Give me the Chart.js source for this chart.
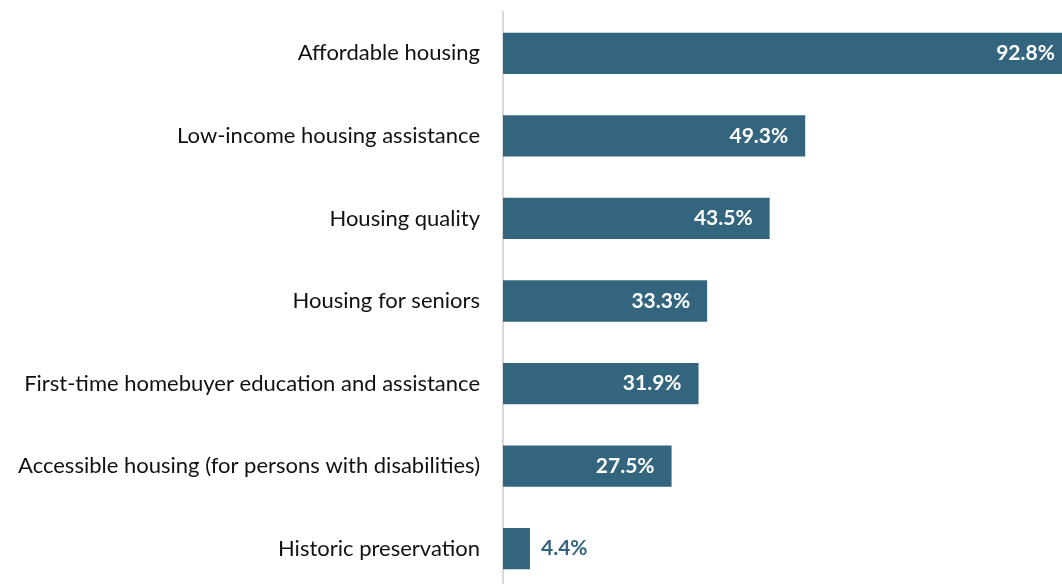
<!DOCTYPE html>
<html>
<head>
<meta charset="utf-8">
<script src="https://cdn.jsdelivr.net/npm/chart.js@4/dist/chart.umd.min.js"></script>
<style>
  html, body { margin: 0; padding: 0; background: #fff; overflow: hidden; }
  canvas { display: block; }
</style>
</head>
<body>
<canvas id="chart" width="1116" height="590"></canvas>
<script>
// Housing priorities - share of respondents
const categories = [
    'Affordable housing',
    'Low-income housing assistance',
    'Housing quality',
    'Housing for seniors',
    'First-time homebuyer education and assistance',
    'Accessible housing (for persons with disabilities)',
    'Historic preservation'
];
const values = [92.8, 49.3, 43.5, 33.3, 31.9, 27.5, 4.4];

const BAR_COLOR = '#34657f';
const LABEL_FONT = 'Lato, "Open Sans", sans-serif';

// draws the value labels at the end of each bar
const valueLabels = {
    id: 'valueLabels',
    afterDatasetsDraw(chart) {
        const ctx = chart.ctx;
        const meta = chart.getDatasetMeta(0);
        ctx.save();
        ctx.font = 'bold 21px ' + LABEL_FONT;
        ctx.textBaseline = 'middle';
        meta.data.forEach((bar, i) => {
            const text = values[i].toFixed(1) + '%';
            const w = ctx.measureText(text).width;
            const barLen = bar.x - bar.base;
            if (barLen > w + 30) {
                ctx.fillStyle = '#ffffff';
                ctx.textAlign = 'right';
                ctx.fillText(text, bar.x - 17, bar.y);
            } else {
                ctx.fillStyle = BAR_COLOR;
                ctx.textAlign = 'left';
                ctx.fillText(text, bar.x + 11, bar.y);
            }
        });
        ctx.restore();
    }
};

new Chart(document.getElementById('chart'), {
    type: 'bar',
    data: {
        labels: categories,
        datasets: [{
            data: values,
            backgroundColor: BAR_COLOR,
            barPercentage: 0.5,
            categoryPercentage: 1
        }]
    },
    options: {
        indexAxis: 'y',
        responsive: false,
        animation: false,
        layout: { padding: { top: 12, bottom: 0, left: 0, right: 0 } },
        plugins: {
            legend: { display: false },
            tooltip: { enabled: false }
        },
        scales: {
            x: {
                display: false,
                min: 0,
                max: 100
            },
            y: {
                afterFit: (scale) => {
                    scale.width = 503;
                    scale.paddingTop = 0;
                    scale.paddingBottom = 0;
                },
                grid: { display: false },
                border: { color: '#d9d9d9', width: 2 },
                ticks: {
                    color: '#111111',
                    padding: 15,
                    font: { size: 22, family: LABEL_FONT }
                }
            }
        }
    },
    plugins: [valueLabels]
});
</script>
</body>
</html>
